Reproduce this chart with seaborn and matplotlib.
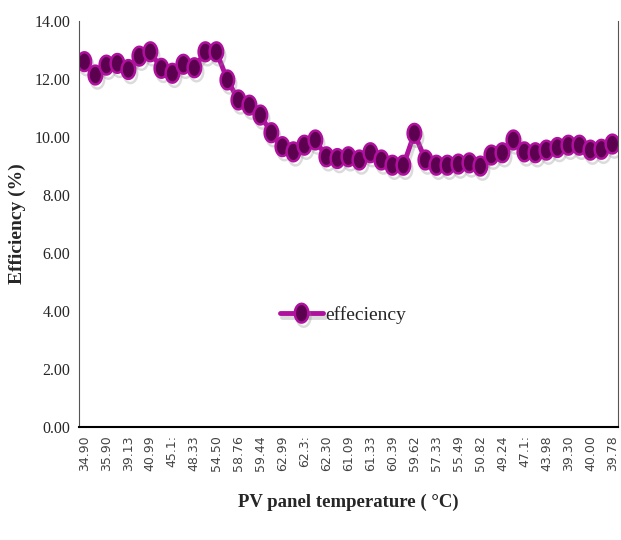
import numpy as np
import pandas as pd
import matplotlib
matplotlib.use("Agg")
import matplotlib.pyplot as plt
import matplotlib.patheffects as pe
from matplotlib.ticker import FixedLocator
import seaborn as sns

# ── Data ─────────────────────────────────────────────────────────────────
efficiency = [
    12.60, 12.14, 12.48, 12.54, 12.33, 12.79, 12.94, 12.37, 12.20, 12.51,
    12.39, 12.94, 12.94, 11.97, 11.28, 11.10, 10.76, 10.15, 9.67, 9.49,
    9.72, 9.90, 9.32, 9.26, 9.32, 9.21, 9.46, 9.21, 9.03, 9.03,
    10.13, 9.21, 9.03, 9.03, 9.07, 9.11, 9.00, 9.38, 9.46, 9.90,
    9.49, 9.46, 9.55, 9.64, 9.72, 9.72, 9.55, 9.58, 9.76,
]
# only every other category label is shown on the axis
temp_labels = [
    "34.90", "35.90", "39.13", "40.99", "45.1:", "48.33", "54.50", "58.76",
    "59.44", "62.99", "62.3:", "62.30", "61.09", "61.33", "60.39", "59.62",
    "57.33", "55.49", "50.82", "49.24", "47.1:", "43.98", "39.30", "40.00",
    "39.78",
]
y_ticks = [0, 2, 4, 6, 8, 10, 12, 14]

LINE = "#B0109E"
FACE = "#5C0050"

sns.set_style("white")
plt.rcParams["font.family"] = ["Liberation Serif", "DejaVu Serif"]

df = pd.DataFrame({"idx": np.arange(len(efficiency)), "eff": efficiency})

# tall oval marker, like the reference
t = np.linspace(0, 2 * np.pi, 40)
oval = list(zip(0.72 * np.cos(t), np.sin(t)))

fig = plt.figure(figsize=(6.21, 5.40), dpi=100)
ax = fig.add_axes([0.127, 0.209, 0.868, 0.752])

sns.lineplot(
    data=df, x="idx", y="eff", ax=ax,
    color=LINE, linewidth=3.5, marker=oval, markersize=13.5,
    markerfacecolor=FACE, markeredgecolor=LINE, markeredgewidth=1.8,
    label="effeciency",
    path_effects=[pe.SimpleLineShadow(offset=(1.5, -3), shadow_color="#888888", alpha=0.3),
                  pe.Normal()],
)

n = len(efficiency)
ax.set_xlim(-0.5, n - 0.5)
ax.set_ylim(0, 14)
ax.set_yticks(y_ticks)
ax.set_yticklabels([f"{v:.2f}" for v in y_ticks], fontsize=11.5)

# labels at every other category, tick marks between categories
ax.set_xticks(np.arange(0, n, 2))
ax.set_xticklabels(temp_labels, rotation=90, fontsize=9,
                   family="DejaVu Sans", color="#444444")
ax.tick_params(axis="x", which="major", length=0, pad=6)
ax.xaxis.set_minor_locator(FixedLocator(np.arange(-0.5, n, 1)))
ax.tick_params(axis="x", which="minor", length=5, color="black", width=1)
ax.tick_params(axis="y", length=0, pad=6)

ax.spines["top"].set_visible(False)
ax.spines["left"].set_color("#555555")
ax.spines["right"].set_color("#555555")
ax.spines["bottom"].set_color("black")
ax.spines["bottom"].set_linewidth(1.5)

ax.set_xlabel("PV panel temperature ( \u00b0C)", fontsize=13.5, fontweight="bold", labelpad=16)
ax.set_ylabel("Efficiency (%)", fontsize=14, fontweight="bold", labelpad=6)

ax.legend(loc="center", bbox_to_anchor=(0.49, 0.276), frameon=False,
          fontsize=14, handlelength=2.2, handletextpad=0.1)

fig.savefig("out.png", dpi=100)
